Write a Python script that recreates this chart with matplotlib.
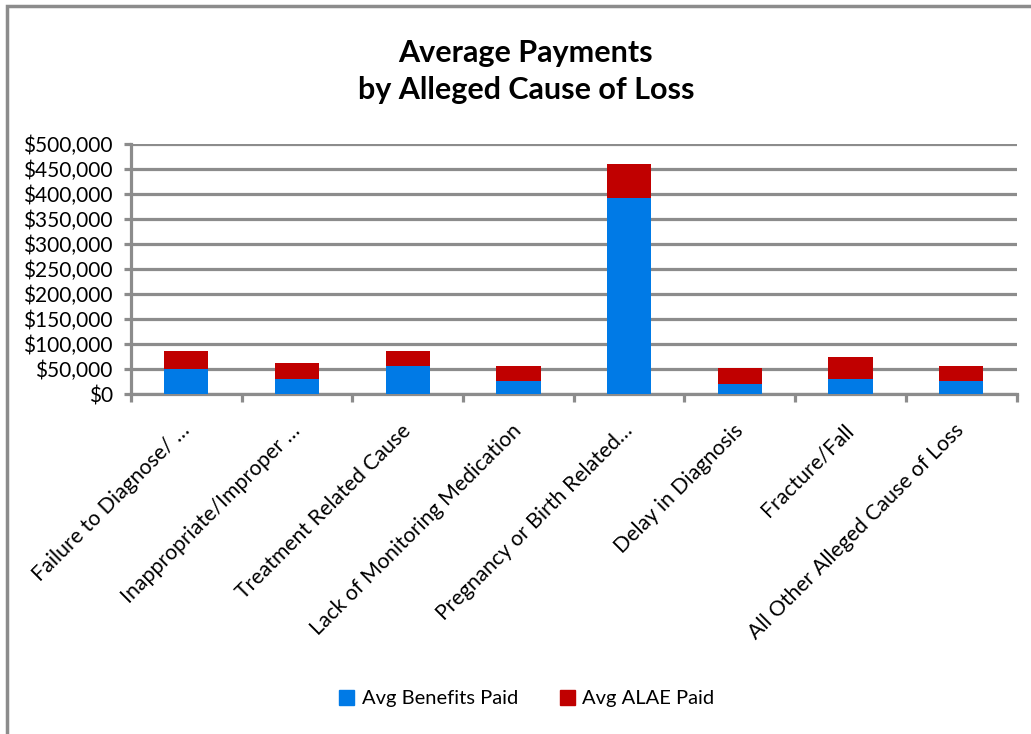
import matplotlib.pyplot as plt
from matplotlib.patches import Patch, Rectangle
from matplotlib.ticker import FuncFormatter
import numpy as np

categories = [
    "Failure to Diagnose/ \u2026",
    "Inappropriate/Improper \u2026",
    "Treatment Related Cause",
    "Lack of Monitoring Medication",
    "Pregnancy or Birth Related\u2026",
    "Delay in Diagnosis",
    "Fracture/Fall",
    "All Other Alleged Cause of Loss",
]
benefits = [51000, 31000, 55500, 26500, 391000, 19500, 31000, 26500]
alae = [35000, 32000, 30500, 29000, 68000, 32000, 44000, 29000]

blue = "#007AE6"
red = "#C00000"
grey = "#8C8C8C"

plt.rcParams["font.family"] = ["Lato", "DejaVu Sans"]

fig = plt.figure(figsize=(10.31, 7.34), dpi=100, facecolor="w")
ax = fig.add_axes([0.127, 0.463, 0.859, 0.341])

x = np.arange(len(categories))
ax.bar(x, benefits, width=0.4, color=blue, zorder=3)
ax.bar(x, alae, width=0.4, bottom=benefits, color=red, zorder=3)

ax.set_xlim(-0.5, len(categories) - 0.5)
ax.set_ylim(0, 500000)
ax.set_yticks(np.arange(0, 500001, 50000))
ax.yaxis.set_major_formatter(FuncFormatter(lambda v, p: f"${v:,.0f}"))
ax.grid(axis="y", color=grey, linewidth=2.3, zorder=0)
ax.tick_params(axis="y", length=5, width=2.3, color=grey, labelsize=15, pad=8)

# category boundary ticks below the axis
ax.set_xticks(np.arange(-0.5, len(categories)), minor=False)
ax.set_xticklabels([])
ax.tick_params(axis="x", which="major", length=6, width=2.3, color=grey)
ax.set_xticks(x, minor=True)
ax.set_xticklabels(categories, minor=True, rotation=45, ha="right",
                   va="center", rotation_mode="anchor", fontsize=15.3)
ax.tick_params(axis="x", which="minor", length=0, pad=24)

for s in ["top", "right"]:
    ax.spines[s].set_visible(False)
for s in ["left", "bottom"]:
    ax.spines[s].set_color(grey)
    ax.spines[s].set_linewidth(2.3)

fig.text(0.51, 0.903, "Average Payments\nby Alleged Cause of Loss", ha="center",
         va="center", fontsize=22, fontweight="bold", linespacing=1.4)

handles = [Patch(color=blue, label="Avg Benefits Paid"),
           Patch(color=red, label="Avg ALAE Paid")]
fig.legend(handles=handles, loc="center", bbox_to_anchor=(0.511, 0.048), ncol=2,
           frameon=False, fontsize=14.5, handlelength=0.75, handleheight=0.75,
           handletextpad=0.35, columnspacing=2.1)

# outer chart border (only top and left edges visible)
fig.patches.append(Rectangle((7 / 1031, -0.1), 1.2, (734 - 6) / 734 + 0.1,
                             transform=fig.transFigure, fill=False,
                             edgecolor=grey, linewidth=2.5))

plt.savefig("out.png", dpi=100)
